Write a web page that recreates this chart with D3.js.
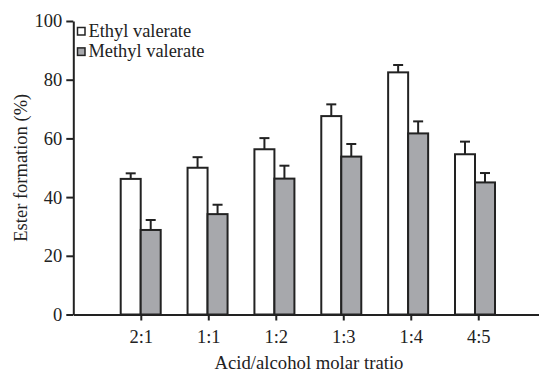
<!DOCTYPE html>
<html>
<head>
<meta charset="utf-8">
<script src="https://cdn.jsdelivr.net/npm/d3@7"></script>
<style>
  body { margin: 0; background: #fff; }
  text { font-family: "Liberation Serif", "Times New Roman", serif; fill: #222; }
</style>
</head>
<body>
<svg id="chart" width="539" height="374"></svg>
<script>
const categories = ["2:1", "1:1", "1:2", "1:3", "1:4", "4:5"];
const ethylValues = [46.2, 50.0, 56.3, 67.6, 82.5, 54.6];
const ethylErrors = [1.9, 3.6, 3.8, 4.0, 2.5, 4.3];
const methylValues = [28.8, 34.2, 46.3, 53.8, 61.7, 45.0];
const methylErrors = [3.4, 3.2, 4.4, 4.3, 4.1, 3.2];
const yTicks = [0, 20, 40, 60, 80, 100];
const seriesNames = ["Ethyl valerate", "Methyl valerate"];
const seriesColors = ["#ffffff", "#a7a8ac"];

const svg = d3.select("#chart");
const ink = "#222";

const y = d3.scaleLinear().domain([0, 100]).range([314.5, 21]);
const x = d3.scaleLinear().domain([0, 6.9]).range([73.3, 539]);
const xBar = d3.scaleLinear().domain([1, 6]).range([140.7, 475]);
const barW = 20;
const capW = 10;

// bars
const series = [
  { values: ethylValues, errors: ethylErrors, color: seriesColors[0], off: -barW },
  { values: methylValues, errors: methylErrors, color: seriesColors[1], off: 0 }
];

series.forEach(s => {
  const g = svg.append("g");
  s.values.forEach((v, i) => {
    const cx = xBar(i + 1) + s.off + barW / 2;
    const top = y(v);
    const etop = y(v + s.errors[i]);
    g.append("line").attr("x1", cx).attr("x2", cx).attr("y1", top).attr("y2", etop)
      .attr("stroke", ink).attr("stroke-width", 2);
    g.append("line").attr("x1", cx - capW / 2).attr("x2", cx + capW / 2).attr("y1", etop).attr("y2", etop)
      .attr("stroke", ink).attr("stroke-width", 2);
    g.append("rect")
      .attr("x", xBar(i + 1) + s.off)
      .attr("y", top)
      .attr("width", barW)
      .attr("height", y(0) - top)
      .attr("fill", s.color)
      .attr("stroke", ink)
      .attr("stroke-width", 2);
  });
});

// axes
const yAxis = d3.axisLeft(y).tickValues(yTicks).tickSize(7).tickSizeOuter(0).tickPadding(4);
const gy = svg.append("g").attr("transform", `translate(${x(0)},0)`).call(yAxis);
gy.selectAll("text").style("font-size", "18.5px").attr("fill", ink);

const xAxis = d3.axisBottom(x).tickValues(d3.range(1, categories.length + 1))
  .tickFormat(d => categories[d - 1]).tickSize(6).tickSizeOuter(0).tickPadding(9);
const gx = svg.append("g").attr("transform", `translate(0,${y(0)})`).call(xAxis);
gx.selectAll("text").style("font-size", "18.5px").attr("fill", ink);

svg.selectAll(".domain, .tick line").attr("stroke", ink).attr("stroke-width", 2);

// axis titles
svg.append("text")
  .attr("x", 309)
  .attr("y", 369)
  .attr("text-anchor", "middle")
  .style("font-size", "18.7px")
  .text("Acid/alcohol molar tratio");

svg.append("text")
  .attr("transform", `translate(27,${(y(0) + y(100)) / 2}) rotate(-90)`)
  .attr("text-anchor", "middle")
  .style("font-size", "18.5px")
  .text("Ester formation (%)");

// legend
const legend = svg.append("g");
seriesNames.forEach((name, i) => {
  const ly = 27.5 + i * 20.4;
  legend.append("rect").attr("x", 77.5).attr("y", ly).attr("width", 7.5).attr("height", 7.5)
    .attr("fill", seriesColors[i]).attr("stroke", ink).attr("stroke-width", 1.5);
  legend.append("text").attr("x", 88.5).attr("y", ly + 9.3)
    .style("font-size", "18.4px").text(name);
});
</script>
</body>
</html>
